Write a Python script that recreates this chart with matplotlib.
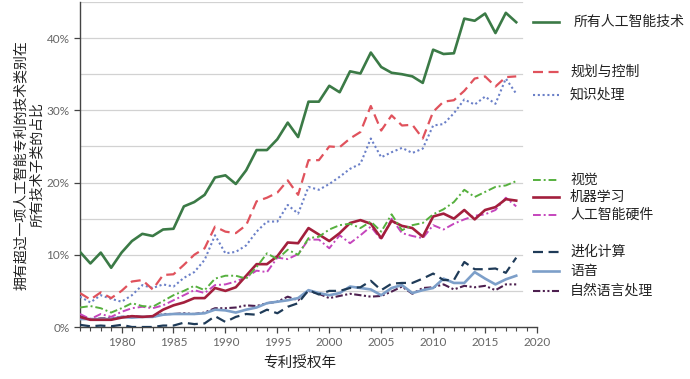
import matplotlib
matplotlib.use("Agg")
import matplotlib.pyplot as plt
from matplotlib.lines import Line2D
from matplotlib.ticker import MultipleLocator, FuncFormatter

plt.rcParams['font.family'] = ['Noto Sans CJK SC', 'DejaVu Sans']

years = list(range(1976, 2019))

all_ai = [10.4, 8.8, 10.3, 8.2, 10.3, 11.9, 12.9, 12.6, 13.5, 13.6, 16.7, 17.3, 18.3, 20.7,
          21.0, 19.8, 21.7, 24.5, 24.5, 26.0, 28.3, 26.3, 31.2, 31.2, 33.4, 32.5, 35.4, 35.1,
          38.0, 36.0, 35.2, 35.0, 34.7, 33.8, 38.4, 37.8, 37.9, 42.7, 42.4, 43.4, 40.7, 43.5, 42.2]
planning = [4.7, 3.8, 4.8, 4.0, 5.0, 6.3, 6.5, 5.2, 7.2, 7.3, 8.6, 10.0, 10.9, 13.9,
            13.2, 13.0, 14.1, 17.4, 17.9, 18.6, 20.3, 18.3, 23.1, 23.1, 25.0, 24.9, 26.1, 27.0,
            30.6, 27.2, 29.3, 27.9, 28.0, 26.1, 29.8, 31.2, 31.4, 32.7, 34.4, 34.7, 33.3, 34.6, 34.7]
knowledge = [4.2, 3.4, 4.4, 3.9, 3.5, 4.4, 5.8, 5.4, 5.9, 5.6, 6.8, 7.6, 9.3, 12.7,
             10.2, 10.4, 11.3, 13.2, 14.6, 14.6, 16.9, 15.7, 19.4, 19.0, 19.8, 20.8, 21.9, 22.6,
             26.1, 23.5, 24.2, 24.8, 24.1, 24.7, 27.9, 28.1, 29.6, 31.5, 30.8, 31.9, 30.9, 34.4, 32.3]
vision = [2.7, 2.9, 2.6, 2.0, 2.6, 3.3, 2.9, 2.8, 3.6, 4.4, 5.0, 5.7, 5.1, 6.7,
          7.1, 7.1, 6.7, 8.3, 10.2, 9.4, 10.7, 10.0, 12.3, 12.5, 13.5, 14.1, 14.3, 13.7,
          14.6, 13.2, 15.6, 13.4, 14.1, 14.4, 15.6, 16.3, 17.3, 19.0, 18.0, 18.7, 19.4, 19.6, 20.2]
machine_learning = [1.4, 1.0, 1.0, 1.0, 1.3, 1.5, 1.4, 1.5, 2.4, 3.0, 3.4, 4.0, 4.0, 5.4,
                    5.0, 5.5, 7.1, 8.7, 8.7, 9.8, 11.7, 11.6, 13.7, 12.8, 11.9, 13.0, 14.4, 14.8,
                    14.3, 12.3, 14.7, 14.0, 13.7, 12.5, 15.3, 15.7, 15.0, 16.2, 14.9, 16.2, 16.6, 17.7, 17.5]
hardware = [1.8, 1.1, 1.8, 1.4, 2.1, 2.6, 2.8, 2.6, 3.0, 3.7, 4.4, 5.1, 4.7, 5.8,
            5.9, 6.3, 6.9, 7.8, 7.6, 9.6, 9.4, 10.1, 12.1, 12.1, 10.9, 12.7, 11.6, 12.7,
            13.9, 12.1, 15.0, 13.0, 12.6, 12.3, 14.1, 13.5, 14.3, 14.9, 15.4, 15.6, 16.2, 17.9, 16.7]
evolutionary = [0.3, 0.1, 0.2, 0.1, 0.3, 0.0, 0.0, 0.0, 0.2, 0.2, 0.6, 0.4, 0.5, 1.5,
                0.7, 1.4, 1.8, 1.7, 2.4, 1.9, 2.8, 3.3, 5.1, 4.5, 5.0, 5.0, 5.4, 5.5,
                6.4, 5.1, 6.0, 6.1, 6.1, 6.7, 7.4, 6.5, 6.5, 9.0, 8.0, 8.0, 8.1, 7.5, 9.6]
speech = [1.1, 1.1, 1.1, 1.1, 1.4, 1.3, 1.4, 1.4, 1.7, 1.8, 1.8, 1.8, 1.9, 2.4,
          2.3, 2.0, 2.4, 2.7, 3.3, 3.5, 3.7, 4.0, 5.1, 4.7, 4.4, 4.7, 5.6, 5.4,
          5.2, 4.4, 5.4, 5.8, 4.7, 5.1, 5.4, 6.7, 6.1, 6.1, 7.6, 6.7, 5.9, 6.6, 7.1]
nlp = [1.5, 1.0, 1.2, 1.2, 1.4, 1.5, 1.4, 1.4, 1.8, 1.8, 1.9, 1.8, 2.0, 2.6,
       2.6, 2.7, 3.0, 2.9, 3.3, 3.5, 4.2, 3.7, 5.0, 4.6, 4.0, 4.3, 4.6, 4.4,
       4.2, 4.3, 4.9, 5.6, 4.6, 5.4, 5.5, 5.9, 5.2, 5.7, 5.5, 5.7, 5.1, 5.9, 5.9]

labels = ['所有人工智能技术', '规划与控制', '知识处理', '视觉', '机器学习',
          '人工智能硬件', '进化计算', '语音', '自然语言处理']
y_ticks = [0, 10, 20, 30, 40]
x_ticks = [1980, 1985, 1990, 1995, 2000, 2005, 2010, 2015, 2020]
y_title = '拥有超过一项人工智能专利的技术类别在\n所有技术子类的占比'
x_title = '专利授权年'

series = [all_ai, planning, knowledge, vision, machine_learning, hardware,
          evolutionary, speech, nlp]
styles = [
    dict(color='#3b7a46', lw=1.9, ls='-'),
    dict(color='#e0525c', lw=1.6, ls=(0, (4.5, 2.5))),
    dict(color='#6b80c8', lw=1.5, ls=(0, (1, 1.3))),
    dict(color='#56b03e', lw=1.4, ls=(0, (4, 1.5, 1, 1.5))),
    dict(color='#a31f3d', lw=1.9, ls='-'),
    dict(color='#c545bd', lw=1.4, ls=(0, (4, 1.5, 1, 1.5))),
    dict(color='#1f3b58', lw=1.6, ls=(0, (4.5, 2.5))),
    dict(color='#7d9fc9', lw=1.9, ls='-'),
    dict(color='#4d1f4f', lw=1.5, ls=(0, (3.5, 1.2, 1, 1.2, 1, 1.2))),
]

fig = plt.figure(figsize=(6.9, 3.79), dpi=100)
ax = fig.add_axes([80 / 690, 1 - 327 / 379, (537 - 80) / 690, (327 - 2) / 379])
ax.set_xlim(1976, 2020)
ax.set_ylim(0, 45)

for g in range(5, 50, 5):
    ax.axhline(g, xmin=0, xmax=(2018.6 - 1976) / 44, color='#d2d2d2', lw=0.9, zorder=0)

order = [8, 7, 6, 5, 4, 3, 2, 1, 0]
for i in order:
    ax.plot(years, series[i], zorder=3 + (9 - i), **styles[i])

for s in ['top', 'right']:
    ax.spines[s].set_visible(False)
for s in ['left', 'bottom']:
    ax.spines[s].set_color('#444444')
    ax.spines[s].set_linewidth(1.0)

ax.set_yticks(y_ticks)
ax.yaxis.set_major_formatter(FuncFormatter(lambda v, p: f'{int(v)}%'))
ax.set_xticks(x_ticks)
ax.xaxis.set_minor_locator(MultipleLocator(1))
ax.tick_params(axis='both', which='major', direction='out', length=4, width=0.9,
               color='#444444', labelcolor='#666666', labelsize=8.5)
ax.tick_params(axis='x', which='minor', direction='out', length=3, width=0.8, color='#444444')
for lab in ax.get_xticklabels() + ax.get_yticklabels():
    lab.set_fontfamily(['Lato', 'DejaVu Sans'])

fig.text(29 / 690, 1 - 165 / 379, y_title, rotation=90, ha='center', va='center',
         fontsize=10, color='#222222', linespacing=1.15)
fig.text(300 / 690, 1 - 364 / 379, x_title, ha='center', va='center',
         fontsize=10.5, color='#222222')

leg_y = [22, 72, 95, 180, 197, 215, 252, 271, 291]
text_x = [574, 570, 570, 570, 570, 570, 570, 570, 570]
for i, yy in enumerate(leg_y):
    yf = 1 - yy / 379
    fig.add_artist(Line2D([533 / 690, 559 / 690], [yf, yf], transform=fig.transFigure,
                          **styles[i]))
    fig.text(text_x[i] / 690, yf, labels[i], ha='left', va='center',
             fontsize=10, color='#222222')

fig.savefig('out.png', dpi=100)
